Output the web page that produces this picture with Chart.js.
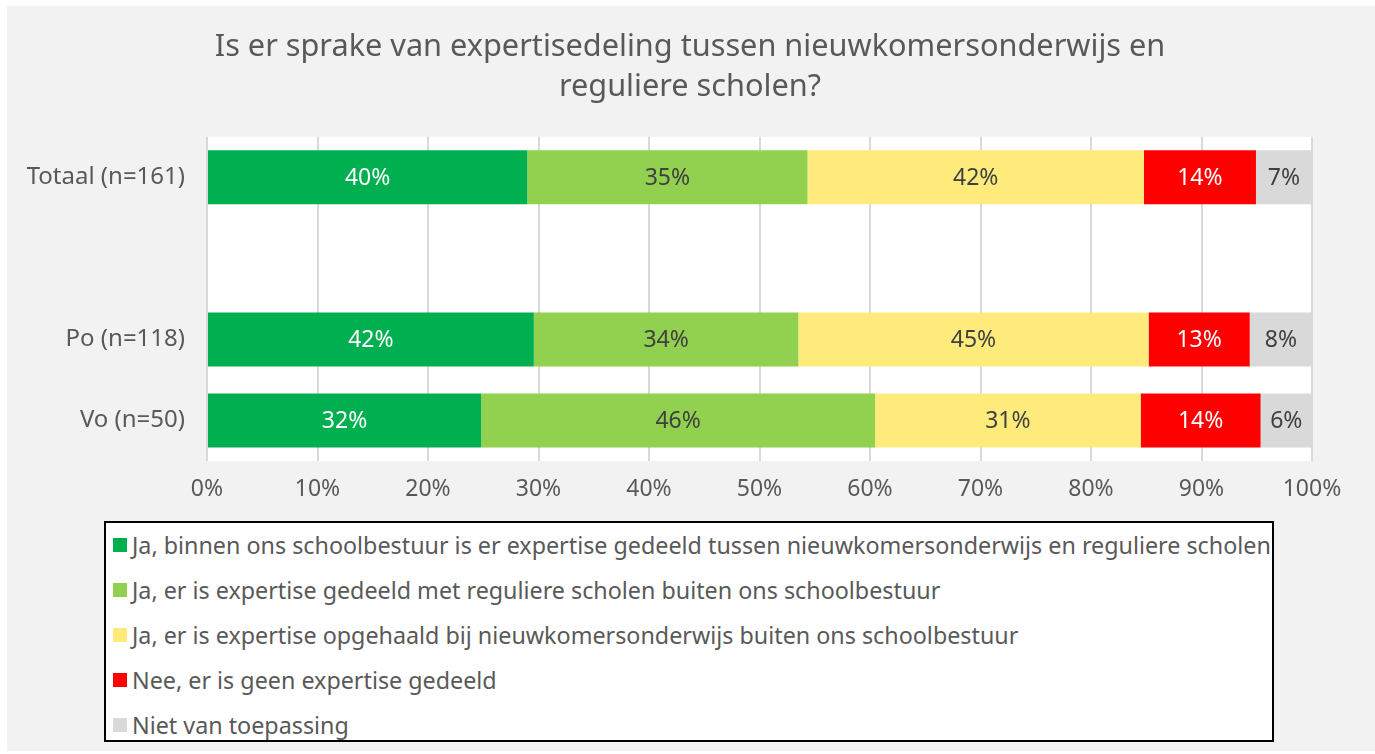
<!DOCTYPE html>
<html lang="nl">
<head>
<meta charset="utf-8">
<title>Expertisedeling</title>
<script src="https://cdn.jsdelivr.net/npm/chart.js@4.4.1/dist/chart.umd.min.js"></script>
<style>
  html, body { margin: 0; padding: 0; background: #fff; }
  #wrap {
    position: absolute; left: 7px; top: 6px;
    width: 1368px; height: 745px;
    background: #f2f2f2;
  }
  #chartBox { position: absolute; left: -2px; top: 0; width: 1370px; height: 510px; }
  #legend {
    position: absolute; left: 97px; top: 515px;
    width: 1166px; height: 217px;
    background: #fff; border: 2px solid #000;
    font-family: "Noto Sans", sans-serif; font-size: 23.3px; color: #595959;
  }
  #legend ul { list-style: none; margin: -1px 0 0 0; padding: 0; }
  #legend li { height: 45px; display: flex; align-items: center; padding-left: 7px; white-space: nowrap; }
  #legend li span.sw { width: 14px; height: 14px; margin-right: 5px; flex: none; }
</style>
</head>
<body>
<div id="wrap">
  <div id="chartBox"><canvas id="chart"></canvas></div>
  <div id="legend"></div>
</div>
<script>
const categories = ['Totaal (n=161)', '', 'Po (n=118)', 'Vo (n=50)'];
const seriesNames = [
	'Ja, binnen ons schoolbestuur is er expertise gedeeld tussen nieuwkomersonderwijs en reguliere scholen',
	'Ja, er is expertise gedeeld met reguliere scholen buiten ons schoolbestuur',
	'Ja, er is expertise opgehaald bij nieuwkomersonderwijs buiten ons schoolbestuur',
	'Nee, er is geen expertise gedeeld',
	'Niet van toepassing',
];
// percentages per answer (multiple answers possible), rows follow categories
const binnenBestuur = [40, null, 42, 32];
const buitenBestuur = [35, null, 34, 46];
const nieuwkomers = [42, null, 45, 31];
const geen = [14, null, 13, 14];
const nvt = [7, null, 8, 6];
const xTicks = ['0%', '10%', '20%', '30%', '40%', '50%', '60%', '70%', '80%', '90%', '100%'];

const colors = ['#00b050', '#92d050', '#ffeb7b', '#ff0000', '#d9d9d9'];
const labelColors = ['#ffffff', '#404040', '#404040', '#ffffff', '#404040'];
const series = [binnenBestuur, buitenBestuur, nieuwkomers, geen, nvt];

// bars are stacked to 100% of the row total
const rowTotals = categories.map((c, i) =>
	series.reduce((sum, s) => sum + (s[i] || 0), 0)
);
const datasets = series.map((s, k) => ({
	label: seriesNames[k],
	raw: s,
	data: s.map((v, i) => (v == null ? null : (v / rowTotals[i]) * 100)),
	backgroundColor: colors[k],
	borderWidth: 0,
	categoryPercentage: 1,
	barPercentage: 0.667,
}));

const FONT = '"Noto Sans", sans-serif';

const plotBackground = {
	id: 'plotBackground',
	beforeDraw(chart) {
		const { ctx, chartArea: a } = chart;
		ctx.save();
		ctx.fillStyle = '#ffffff';
		ctx.fillRect(a.left, a.top, a.right - a.left, a.bottom - a.top);
		ctx.restore();
	},
};

const barLabels = {
	id: 'barLabels',
	afterDatasetsDraw(chart) {
		const ctx = chart.ctx;
		ctx.save();
		ctx.font = '23px ' + FONT;
		ctx.textAlign = 'center';
		ctx.textBaseline = 'middle';
		chart.data.datasets.forEach((ds, k) => {
			chart.getDatasetMeta(k).data.forEach((bar, i) => {
				if (ds.raw[i] == null) return;
				const p = bar.getCenterPoint();
				ctx.fillStyle = labelColors[k];
				ctx.fillText(ds.raw[i] + '%', p.x, p.y + 1);
			});
		});
		ctx.restore();
	},
};

const htmlLegend = {
	id: 'htmlLegend',
	afterUpdate(chart) {
		const box = document.getElementById('legend');
		box.innerHTML = '';
		const ul = document.createElement('ul');
		chart.options.plugins.legend.labels.generateLabels(chart).forEach((item) => {
			const li = document.createElement('li');
			const sw = document.createElement('span');
			sw.className = 'sw';
			sw.style.background = item.fillStyle;
			li.appendChild(sw);
			li.appendChild(document.createTextNode(item.text));
			ul.appendChild(li);
		});
		box.appendChild(ul);
	},
};

new Chart(document.getElementById('chart'), {
	type: 'bar',
	data: { labels: categories, datasets: datasets },
	plugins: [plotBackground, barLabels, htmlLegend],
	options: {
		indexAxis: 'y',
		responsive: true,
		maintainAspectRatio: false,
		animation: false,
		layout: { padding: { left: 20, right: 20, top: 0, bottom: 0 } },
		plugins: {
			legend: { display: false },
			tooltip: { enabled: false },
			title: {
				display: true,
				text: [
					'Is er sprake van expertisedeling tussen nieuwkomersonderwijs en',
					'reguliere scholen?',
				],
				color: '#595959',
				font: { family: FONT, size: 30.7, weight: 'normal', lineHeight: 1.3 },
				padding: { top: 21, bottom: 30 },
			},
		},
		scales: {
			x: {
				stacked: true,
				min: 0,
				max: 100,
				ticks: {
					stepSize: 10,
					color: '#595959',
					font: { family: FONT, size: 23 },
					padding: 15,
					callback: (v, i) => xTicks[i],
				},
				grid: { color: '#d9d9d9', lineWidth: 2, drawTicks: false },
				border: { display: false },
				afterFit: (scale) => { scale.height = 55; },
			},
			y: {
				stacked: true,
				ticks: {
					color: '#595959',
					font: { family: FONT, size: 24 },
					padding: 14,
				},
				grid: { display: false },
				border: { display: false },
				afterFit: (scale) => { scale.width = 182; },
			},
			// empty right-hand axis: keeps room for the last tick label
			yRight: {
				axis: 'y',
				type: 'category',
				position: 'right',
				ticks: { display: false },
				grid: { display: false },
				border: { display: false },
				afterFit: (scale) => { scale.width = 43; },
			},
		},
	},
});
</script>
</body>
</html>
